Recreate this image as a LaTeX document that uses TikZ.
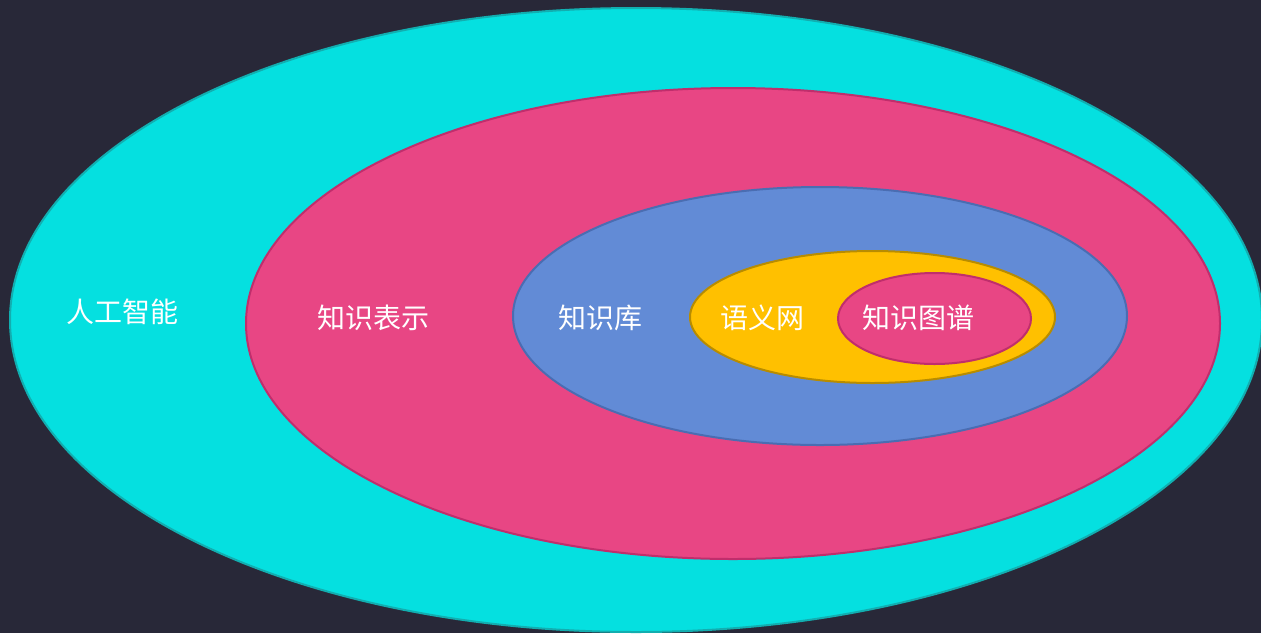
\documentclass[tikz,border=0pt]{standalone}
\usepackage{fontspec}
\newfontfamily\cjk{Noto Sans CJK SC}
\definecolor{bg}{HTML}{282838}
\definecolor{cyanfill}{HTML}{05E0E0}
\definecolor{cyanline}{HTML}{12AEB0}
\definecolor{pinkfill}{HTML}{E84684}
\definecolor{pinkline}{HTML}{C02E6C}
\definecolor{bluefill}{HTML}{628BD6}
\definecolor{blueline}{HTML}{4A6DB2}
\definecolor{yellowfill}{HTML}{FFC000}
\definecolor{yellowline}{HTML}{B88C00}
\tikzset{
  ring/.style={line width=2pt},
  lbl/.style={text=white, font=\cjk\fontsize{28}{31}\selectfont, inner sep=0pt, anchor=center}
}
\begin{document}
\begin{tikzpicture}[x=1pt,y=-1pt]
\fill[bg] (0,0) rectangle (1261,633);
\useasboundingbox (0,0) rectangle (1261,633);
\begin{scope}
\clip (0,0) rectangle (1261,633);
\draw[ring, fill=cyanfill, draw=cyanline] (636,320) ellipse [x radius=626, y radius=312];
\draw[ring, fill=pinkfill, draw=pinkline] (733,323.5) ellipse [x radius=487, y radius=235.5];
\draw[ring, fill=bluefill, draw=blueline] (820,316) ellipse [x radius=307, y radius=129];
\draw[ring, fill=yellowfill, draw=yellowline] (872.5,317) ellipse [x radius=182.5, y radius=66];
\draw[ring, fill=pinkfill, draw=pinkline] (934.5,318.5) ellipse [x radius=96.5, y radius=45.5];
\end{scope}
\node[lbl] (ai) at (122,312) {人工智能};
\node[lbl] (kr) at (373,318) {知识表示};
\node[lbl] (kb) at (600,318) {知识库};
\node[lbl] (sn) at (762,318) {语义网};
\node[lbl] (kg) at (918,318) {知识图谱};
\end{tikzpicture}
\end{document}
